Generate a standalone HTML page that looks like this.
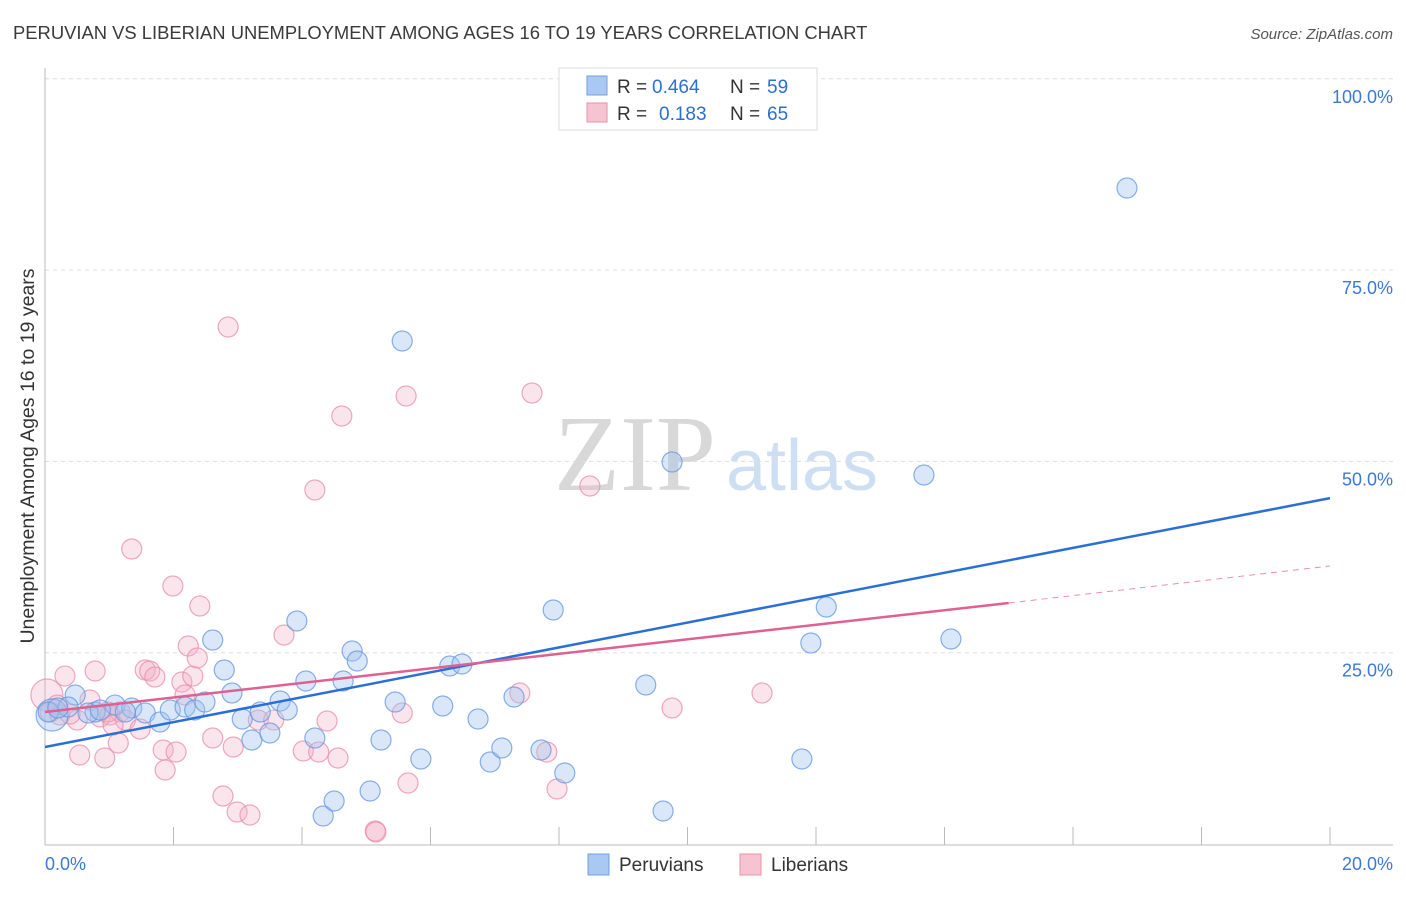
<!DOCTYPE html>
<html><head><meta charset="utf-8"><style>
body{margin:0;background:#fff;font-family:"Liberation Sans",sans-serif;}
svg text{font-family:"Liberation Sans",sans-serif;}
</style></head><body>
<svg id="chart" width="1406" height="892">
<text x="13" y="39" font-size="18.4" fill="#3a3a3a">PERUVIAN VS LIBERIAN UNEMPLOYMENT AMONG AGES 16 TO 19 YEARS CORRELATION CHART</text>
<text x="1393" y="39" font-size="15" fill="#555" text-anchor="end" font-style="italic">Source: ZipAtlas.com</text>
<g>
<text x="635" y="490" font-size="108" fill="#d8d8d8" text-anchor="middle" style="font-family:'Liberation Serif',serif">ZIP</text>
<text x="802" y="490" font-size="72" fill="#cfdff3" text-anchor="middle">atlas</text>
</g>
<g id="grid"></g>
<g id="axes"></g>
<g id="marks"></g>
<text transform="translate(34,456) rotate(-90)" font-size="19.5" fill="#333" text-anchor="middle">Unemployment Among Ages 16 to 19 years</text>
<g>
<rect x="559" y="68" width="258" height="62" fill="#fff" stroke="#ddd"/>
<rect x="587" y="76" width="20" height="19" fill="#a9c8f2" stroke="#6fa0e0"/>
<text x="617" y="93" font-size="19" fill="#333">R =</text>
<text x="652" y="93" font-size="19" fill="#2a6fd6">0.464</text>
<text x="730" y="93" font-size="19" fill="#333">N =</text>
<text x="767" y="93" font-size="19" fill="#2a6fd6">59</text>
<rect x="587" y="103" width="20" height="19" fill="#f6c3d2" stroke="#e890aa"/>
<text x="617" y="120" font-size="19" fill="#333">R =</text>
<text x="659" y="120" font-size="19" fill="#2a6fd6">0.183</text>
<text x="730" y="120" font-size="19" fill="#333">N =</text>
<text x="767" y="120" font-size="19" fill="#2a6fd6">65</text>
</g>
<g>
<rect x="588" y="854" width="21" height="21" fill="#a9c8f2" stroke="#6fa0e0"/>
<text x="619" y="871" font-size="19" fill="#333">Peruvians</text>
<rect x="740" y="854" width="21" height="21" fill="#f6c3d2" stroke="#e890aa"/>
<text x="771" y="871" font-size="19" fill="#333">Liberians</text>
</g>
</svg>
<script>
const xTicks=[0,2,4,6,8,10,12,14,16,18,20];
const yTicks=[25,50,75,100];
const yTickLabels=["25.0%","50.0%","75.0%","100.0%"];
const xEndLabels=["0.0%","20.0%"];
const peruX=[0.11,0.47,0.36,0.78,1.09,1.35,1.56,1.79,1.95,2.18,2.33,2.49,2.61,2.79,2.91,3.07,3.22,3.35,3.50,3.66,3.77,3.92,4.06,4.20,4.33,4.50,4.64,4.78,4.86,5.06,5.23,5.45,5.85,6.19,6.30,6.49,6.74,6.93,7.11,7.30,7.72,7.91,8.09,9.35,9.62,9.76,11.78,11.92,12.16,13.68,14.10,16.84,5.56,0.05,0.20,0.67,1.25,0.86];
const peruY=[16.86,19.47,17.90,17.25,18.16,17.77,17.12,15.94,17.51,17.90,17.51,18.56,26.66,22.74,19.73,16.34,13.59,17.25,14.51,18.69,17.51,29.14,21.30,13.85,3.66,5.62,21.30,25.22,23.92,6.93,13.59,18.56,11.11,18.03,23.26,23.52,16.34,10.72,12.55,19.21,12.28,30.58,9.28,20.78,4.31,49.92,11.11,26.27,30.97,48.22,26.79,85.73,65.73,17.25,17.77,17.12,17.25,17.51];
const libX=[0.03,0.08,0.23,0.31,0.50,0.54,0.78,0.86,0.93,1.01,1.14,1.17,1.25,1.35,1.48,1.56,1.63,1.71,1.84,1.87,1.99,2.04,2.13,2.23,2.30,2.37,2.41,2.61,2.77,2.85,2.93,2.99,3.19,3.32,3.56,3.72,4.02,4.20,4.26,4.39,4.56,4.62,5.14,5.15,5.56,5.62,5.65,7.39,7.58,7.81,7.97,8.48,9.76,11.16,0.70,0.39,0.98,0.19,1.06,2.18];
const libY=[19.47,17.25,16.86,21.95,16.20,11.63,22.61,16.60,11.24,16.86,13.20,17.25,16.20,38.55,15.03,22.74,22.61,21.82,12.28,9.67,33.72,12.02,21.17,25.88,21.95,24.31,31.10,13.85,6.27,67.56,12.68,4.18,3.79,16.20,16.20,27.31,12.15,46.26,12.02,16.07,11.24,55.93,1.70,1.57,17.12,58.55,7.97,19.73,58.94,12.02,7.19,46.79,17.77,19.73,18.82,16.99,17.25,18.16,15.55,19.47];
const peruTrend=[[0,12.68],[20,45.2]];
const libTrendSolid=[[0,17.25],[15,31.5]];
const libTrendDash=[[15,31.5],[20,36.33]];
const NS="http://www.w3.org/2000/svg";
const X=v=>45+v/20*1285;
const Y=v=>844-v/25*191.3;
function mk(tag,attrs,parent){const e=document.createElementNS(NS,tag);for(const k in attrs)e.setAttribute(k,attrs[k]);parent.appendChild(e);return e;}
const grid=document.getElementById('grid'),axes=document.getElementById('axes'),marks=document.getElementById('marks');
yTicks.forEach((t,i)=>{
 const l=mk('line',{x1:45,x2:1393,y1:Y(t),y2:Y(t),stroke:'#ddd','stroke-dasharray':'4,4'},grid);
 
 
 const tx=mk('text',{x:1393,y:Y(t)+24,'font-size':18,fill:'#3b78d8','text-anchor':'end'},axes);
 tx.textContent=yTickLabels[i];
 
 
});
const ax=mk('line',{x1:45,x2:1393,y1:845,y2:845,stroke:'#bbb'},axes);


const ay=mk('line',{x1:45,x2:45,y1:68,y2:845,stroke:'#bbb'},axes);


xTicks.forEach(t=>{
 const l=mk('line',{x1:X(t),x2:X(t),y1:827,y2:845,stroke:'#bbb'},axes);
 
 
});
const xl0=mk('text',{x:45,y:870,'font-size':18,fill:'#3b78d8'},axes);xl0.textContent=xEndLabels[0];


const xl1=mk('text',{x:1393,y:870,'font-size':18,fill:'#3b78d8','text-anchor':'end'},axes);xl1.textContent=xEndLabels[1];


function pts(xs,ys,fill,stroke,name){xs.forEach((v,i)=>{
 const r=i===0?16:10;
 const c=mk('circle',{cx:X(v),cy:Y(ys[i]),r:r,fill:fill,stroke:stroke,'stroke-width':1.2},marks);
 
 
});}
pts(libX,libY,'rgba(244,176,198,0.33)','rgba(232,140,170,0.75)','point-liberian');
pts(peruX,peruY,'rgba(160,196,240,0.4)','rgba(100,150,224,0.75)','point-peruvian');
function line(p,col,dash,name){const l=mk('line',{x1:X(p[0][0]),y1:Y(p[0][1]),x2:X(p[1][0]),y2:Y(p[1][1]),stroke:col,'stroke-width':dash?1:2.5},marks);
 if(dash)l.setAttribute('stroke-dasharray','6,5');
 
 }
line(peruTrend,'#2a6fd6',false,'trendline-peruvians');
line(libTrendSolid,'#e06090',false,'trendline-liberians');
line(libTrendDash,'#e890aa',true,'trendline-liberians-extension');
</script>
</body></html>
